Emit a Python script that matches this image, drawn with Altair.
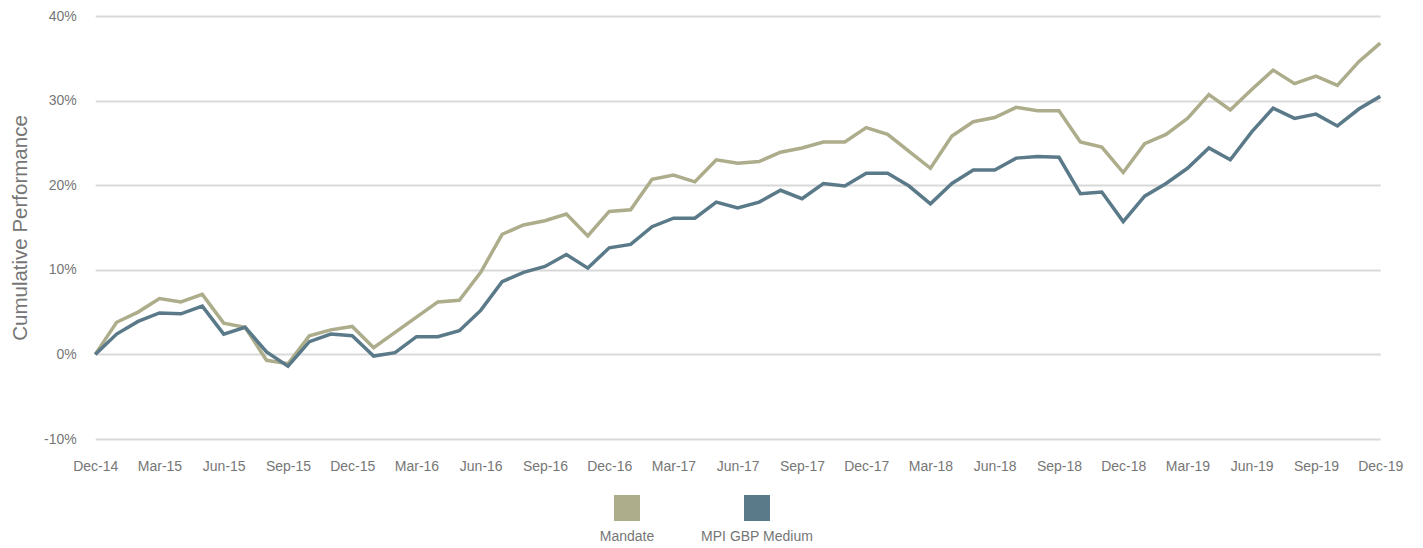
import altair as alt
import pandas as pd

months = [d.strftime("%b-%y") for d in pd.date_range("2014-12-01", periods=61, freq="MS")]

mandate = [0.0, 3.8, 5.0, 6.6, 6.2, 7.1, 3.7, 3.2, -0.7, -1.1,
           2.2, 2.9, 3.3, 0.8, 2.6, 4.4, 6.2, 6.4, 9.7, 14.2,
           15.3, 15.8, 16.6, 14.0, 16.9, 17.1, 20.7, 21.2, 20.4, 23.0,
           22.6, 22.8, 23.9, 24.4, 25.1, 25.1, 26.8, 26.0, 24.0, 22.0,
           25.8, 27.5, 28.0, 29.2, 28.8, 28.8, 25.1, 24.5, 21.5, 24.9,
           26.0, 27.9, 30.7, 28.9, 31.3, 33.6, 32.0, 32.9, 31.8, 34.6,
           36.8]
mpi = [0.0, 2.4, 3.9, 4.9, 4.8, 5.7, 2.4, 3.2, 0.3, -1.4,
       1.5, 2.4, 2.2, -0.2, 0.2, 2.1, 2.1, 2.8, 5.2, 8.6,
       9.7, 10.4, 11.8, 10.2, 12.6, 13.0, 15.1, 16.1, 16.1, 18.0,
       17.3, 18.0, 19.4, 18.4, 20.2, 19.9, 21.4, 21.4, 19.9, 17.8,
       20.2, 21.8, 21.8, 23.2, 23.4, 23.3, 19.0, 19.2, 15.7, 18.7,
       20.2, 22.0, 24.4, 23.0, 26.3, 29.1, 27.9, 28.4, 27.0, 29.0,
       30.5]
series_names = ["Mandate", "MPI GBP Medium"]
colors = ["#ADAC8B", "#5B7A89"]
tick_labels = months[::3]

rows = []
for name, vals in zip(series_names, [mandate, mpi]):
    for m, v in zip(months, vals):
        rows.append({"month": m, "series": name, "value": v / 100})
df = pd.DataFrame(rows)

TEXT = "#767676"
FONT = "Liberation Sans"

color_scale = alt.Scale(domain=series_names, range=colors)

main = alt.Chart(df).mark_line(strokeWidth=3.5, strokeJoin="miter").encode(
    x=alt.X("month:O", sort=months,
            scale=alt.Scale(type="point", padding=0),
            axis=alt.Axis(values=tick_labels, labelAngle=0, title=None, ticks=False,
                          domain=False, grid=False, labelFontSize=14, labelColor=TEXT,
                          labelFont=FONT, labelPadding=20)),
    y=alt.Y("value:Q",
            scale=alt.Scale(domain=[-0.1, 0.4], nice=False),
            axis=alt.Axis(values=[-0.1, 0, 0.1, 0.2, 0.3, 0.4],
                          labelExpr="(datum.value < 0 ? '-' : '') + format(abs(datum.value), '.0%')",
                          title="Cumulative Performance", titleFontSize=20.5,
                          titleFontWeight="normal", titleColor=TEXT, titleFont=FONT,
                          titlePadding=13.5, ticks=False, domain=False,
                          labelFontSize=14, labelColor=TEXT, labelFont=FONT,
                          labelPadding=19, gridColor="#d9d9d9", gridWidth=2)),
    color=alt.Color("series:N", scale=color_scale, legend=None),
    detail="series:N",
).properties(width=1285, height=423)

leg_df = pd.DataFrame({"series": series_names})
leg_base = alt.Chart(leg_df).encode(
    x=alt.X("series:N", sort=series_names,
            scale=alt.Scale(type="point", padding=0, range=[78, 208]), axis=None),
)
leg_sq = leg_base.mark_square(size=676, opacity=1).encode(
    color=alt.Color("series:N", scale=color_scale, legend=None),
    y=alt.value(14),
)
leg_tx = leg_base.mark_text(fontSize=14, font=FONT, color=TEXT, baseline="middle").encode(
    text="series:N",
    y=alt.value(43),
)
legend = alt.layer(leg_sq, leg_tx).properties(width=400, height=52)

chart = alt.vconcat(main, legend, spacing=21, center=True).configure_view(
    stroke=None
).properties(padding={"left": 2, "top": 1, "right": 5, "bottom": 0})

chart.save("out.html", embed_options={"renderer": "svg", "actions": False})
